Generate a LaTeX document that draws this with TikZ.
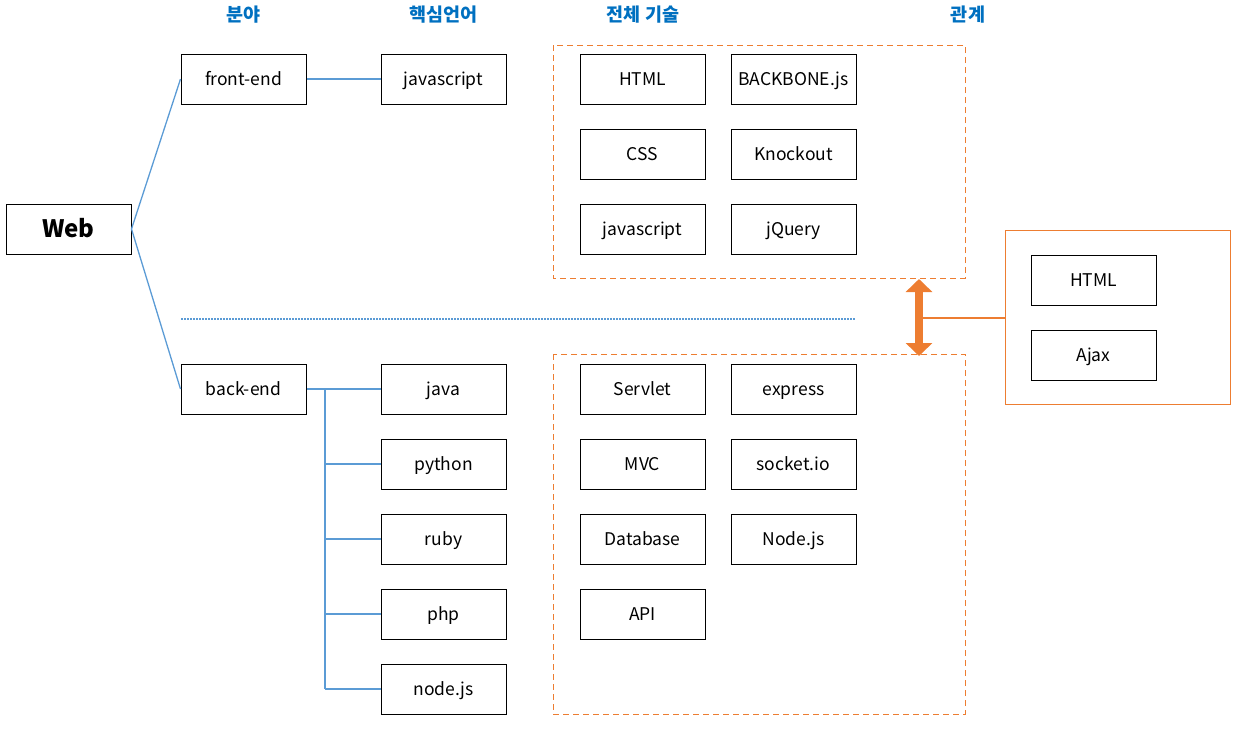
\documentclass[tikz,border=0pt]{standalone}
\usepackage{fontspec}
\setmainfont{Noto Sans CJK KR}
\usetikzlibrary{arrows.meta}
\definecolor{hdr}{HTML}{0070C0}
\definecolor{lnk}{HTML}{5B9BD5}
\definecolor{org}{HTML}{ED7D31}
\tikzset{
  box/.style={draw=black, line width=1pt, fill=white, minimum width=125pt, minimum height=50pt, inner sep=0pt, text height=14.5pt, text depth=1.5pt, font=\fontsize{17.5}{20}\selectfont},
  hd/.style={text=hdr, font=\fontsize{18.5}{20}\selectfont\bfseries},
  link/.style={draw=lnk, line width=1.3pt},
  grp/.style={draw=org, line width=1pt, dash pattern=on 6pt off 4pt},
}
\begin{document}
\begin{tikzpicture}[x=1pt,y=-1pt]
\useasboundingbox (0,0) rectangle (1237,732);
% headers
\node[hd] (h1) at (243.5,15) {분야};
\node[hd] (h2) at (443.5,15) {핵심언어};
\node[hd] (h3) at (643,15) {전체 기술};
\node[hd] (h4) at (968,15) {관계};
% group boxes
\draw[grp] (553,45) rectangle (965,278);
\draw[grp] (553,354) rectangle (965,714);
\draw[draw=org, line width=1pt] (1005,230) rectangle (1230,404);
\coordinate (rel) at (1005,318);
% main nodes
\node[box, text height=19pt, text depth=3pt, font=\fontsize{24}{26}\selectfont\bfseries] (web) at (68.5,229) {Web};
\node[box] (fe) at (243.5,79) {front-end};
\node[box] (be) at (243.5,389) {back-end};
\node[box] (js) at (443.5,79) {javascript};
\node[box] (java) at (443.5,389) {java};
\node[box] (py) at (443.5,464) {python};
\node[box] (rb) at (443.5,539) {ruby};
\node[box] (php) at (443.5,614) {php};
\node[box] (nd) at (443.5,689) {node.js};
% front tech
\node[box] (t1) at (642.5,79) {HTML};
\node[box] (t2) at (793.5,79) {BACKBONE.js};
\node[box] (t3) at (642.5,154) {CSS};
\node[box] (t4) at (793.5,154) {Knockout};
\node[box] (t5) at (642.5,229) {javascript};
\node[box] (t6) at (793.5,229) {jQuery};
% back tech
\node[box] (b1) at (642.5,389) {Servlet};
\node[box] (b2) at (793.5,389) {express};
\node[box] (b3) at (642.5,464) {MVC};
\node[box] (b4) at (793.5,464) {socket.io};
\node[box] (b5) at (642.5,539) {Database};
\node[box] (b6) at (793.5,539) {Node.js};
\node[box] (b7) at (642.5,614) {API};
% relation
\node[box] (r1) at (1093.5,280) {HTML};
\node[box] (r2) at (1093.5,355) {Ajax};
% connectors
\draw[link] (web.east) -- (fe.west);
\draw[link] (web.east) -- (be.west);
\draw[link] (fe.east) -- (js.west);
\coordinate (tr) at (325,389);
\draw[link, line width=2pt] (be.east) -- (tr);
\draw[link, line width=2pt] (tr) -- (tr |- nd.west);
\draw[link] (tr) -- (java.west);
\draw[link] (tr |- py.west) -- (py.west);
\draw[link] (tr |- rb.west) -- (rb.west);
\draw[link] (tr |- php.west) -- (php.west);
\draw[link] (tr |- nd.west) -- (nd.west);
% dotted separator
\coordinate (s1) at (181,319);
\coordinate (s2) at (856,319);
\draw[lnk, line width=1.2pt, dash pattern=on 1.5pt off 1.5pt] (s1) -- (s2);
% double arrow
\coordinate (a1) at (919,279);
\coordinate (a2) at (919,356);
\coordinate (am) at (919,318);
\draw[org, line width=8pt, {Triangle[width=26pt,length=13pt]}-{Triangle[width=26pt,length=13pt]}] (a1) -- (a2);
\draw[org, line width=1.3pt] (am) -- (rel);
\end{tikzpicture}
\end{document}
